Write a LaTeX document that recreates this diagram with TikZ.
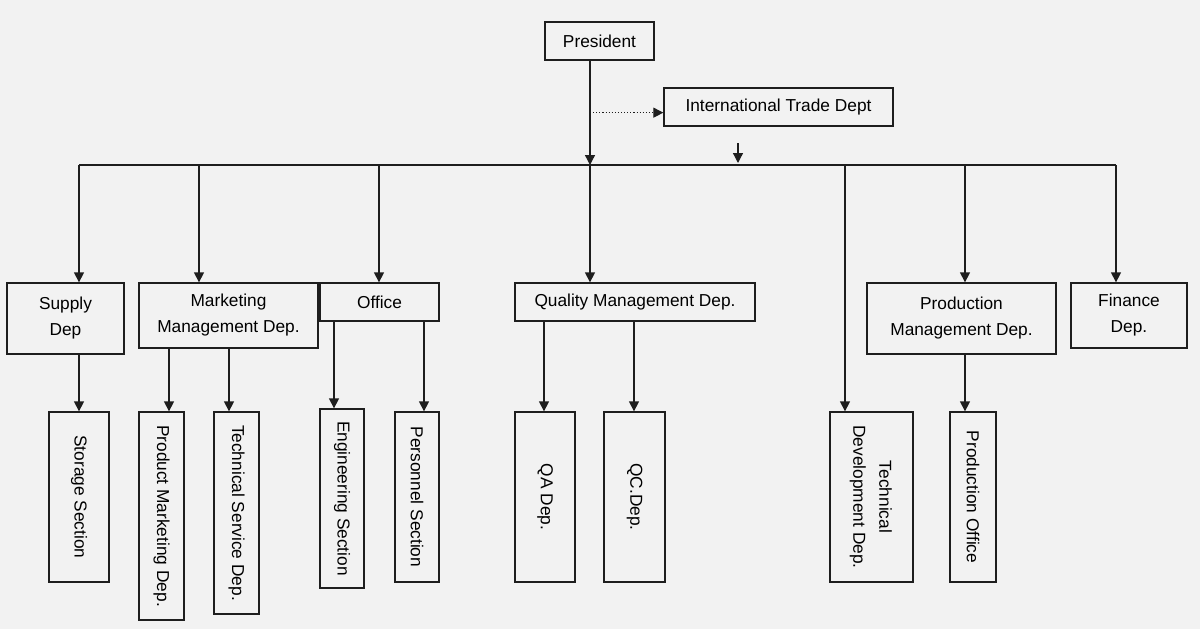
\documentclass[tikz,border=0pt]{standalone}
\usepackage{fontspec}
\setmainfont{Liberation Sans}
\usetikzlibrary{arrows.meta}
\definecolor{bg}{HTML}{F2F2F2}
\definecolor{ln}{HTML}{1E1E1E}
\begin{document}
\begin{tikzpicture}[x=1pt,y=-1pt,
  box/.style={draw=ln,line width=1.3pt,inner sep=0pt,align=center,font=\fontsize{17.3}{26}\selectfont,text=black},
  arr/.style={draw=ln,line width=1.3pt,-{Triangle[length=10pt,width=10pt]}},
  dotarr/.style={draw=ln,line width=1.1pt,dotted,-{Triangle[length=10pt,width=10pt]}}]
\fill[bg] (0,0) rectangle (1200,629);
\useasboundingbox (0,0) rectangle (1200,629);
% top
\node[box,minimum width=109pt,minimum height=38pt] (pres) at (599.5,41) {President};
\node[box,minimum width=229pt,minimum height=38pt] (intl) at (778.5,107) {International Trade Dept};
% level 2
\node[box,minimum width=117pt,minimum height=71pt] (supply) at (65.5,318.5) {Supply\\Dep};
\node[box,minimum width=179pt,minimum height=65pt] (mkt) at (228.5,315.5) {Marketing\\Management Dep.};
\node[box,minimum width=119pt,minimum height=38pt] (office) at (379.5,302) {Office};
\node[box,minimum width=240pt,minimum height=38pt] (qm) at (635,302) {Quality Management Dep.};
\node[box,minimum width=189pt,minimum height=71pt] (prod) at (961.5,318.5) {Production\\Management Dep.};
\node[box,minimum width=116pt,minimum height=65pt] (fin) at (1129,315.5) {Finance\\Dep.};
% level 3
\node[box,minimum width=60pt,minimum height=170pt] (storage) at (79,497) {\rotatebox{-90}{Storage Section}};
\node[box,minimum width=45pt,minimum height=208pt] (pmkt) at (161.5,516) {\rotatebox{-90}{Product Marketing Dep.}};
\node[box,minimum width=45pt,minimum height=202pt] (tserv) at (236.5,513) {\rotatebox{-90}{Technical Service Dep.}};
\node[box,minimum width=44pt,minimum height=179pt] (eng) at (342,498.5) {\rotatebox{-90}{Engineering Section}};
\node[box,minimum width=44pt,minimum height=170pt] (pers) at (417,497) {\rotatebox{-90}{Personnel Section}};
\node[box,minimum width=60pt,minimum height=170pt] (qa) at (545,497) {\rotatebox{-90}{QA Dep.}};
\node[box,minimum width=61pt,minimum height=170pt] (qc) at (634.5,497) {\rotatebox{-90}{QC.Dep.}};
\node[box,minimum width=83pt,minimum height=170pt] (tdev) at (871.5,497) {\rotatebox{-90}{\begin{tabular}{@{}c@{}}Technical\\Development Dep.\end{tabular}}};
\node[box,minimum width=46pt,minimum height=170pt] (poff) at (973,497) {\rotatebox{-90}{Production Office}};
% bus coordinates
\coordinate (busL) at (79,165);
\coordinate (busR) at (1116,165);
\coordinate (b1) at (79,165);
\coordinate (b2) at (199,165);
\coordinate (b3) at (379,165);
\coordinate (b4) at (590,165);
\coordinate (b5) at (845,165);
\coordinate (b6) at (965,165);
\coordinate (b7) at (1116,165);
\coordinate (itop) at (738,143);
\coordinate (ibot) at (738,163);
\coordinate (xpm) at (169,0);
\coordinate (xts) at (229,0);
\coordinate (xen) at (334,0);
\coordinate (xpe) at (424,0);
\coordinate (xqa) at (544,0);
\coordinate (xqc) at (634,0);
\coordinate (xpo) at (965,0);
% connectors
\draw[arr] (pres.south -| b4) -- (b4);
\draw[dotarr] (pres.south -| b4) ++(0,52) coordinate (dstart) -- (intl.west |- dstart);
\draw[arr] (itop) -- (ibot);
\draw[draw=ln,line width=1.3pt] (busL) -- (busR);
\draw[arr] (b1) -- (b1 |- supply.north);
\draw[arr] (b2) -- (b2 |- mkt.north);
\draw[arr] (b3) -- (b3 |- office.north);
\draw[arr] (b4) -- (b4 |- qm.north);
\draw[arr] (b5) -- (b5 |- tdev.north);
\draw[arr] (b6) -- (b6 |- prod.north);
\draw[arr] (b7) -- (b7 |- fin.north);
\draw[arr] (supply.south -| storage.north) -- (storage.north);
\draw[arr] (mkt.south -| xpm) -- (pmkt.north -| xpm);
\draw[arr] (mkt.south -| xts) -- (tserv.north -| xts);
\draw[arr] (office.south -| xen) -- (eng.north -| xen);
\draw[arr] (office.south -| xpe) -- (pers.north -| xpe);
\draw[arr] (qm.south -| xqa) -- (qa.north -| xqa);
\draw[arr] (qm.south -| xqc) -- (qc.north -| xqc);
\draw[arr] (prod.south -| xpo) -- (poff.north -| xpo);
\end{tikzpicture}
\end{document}
